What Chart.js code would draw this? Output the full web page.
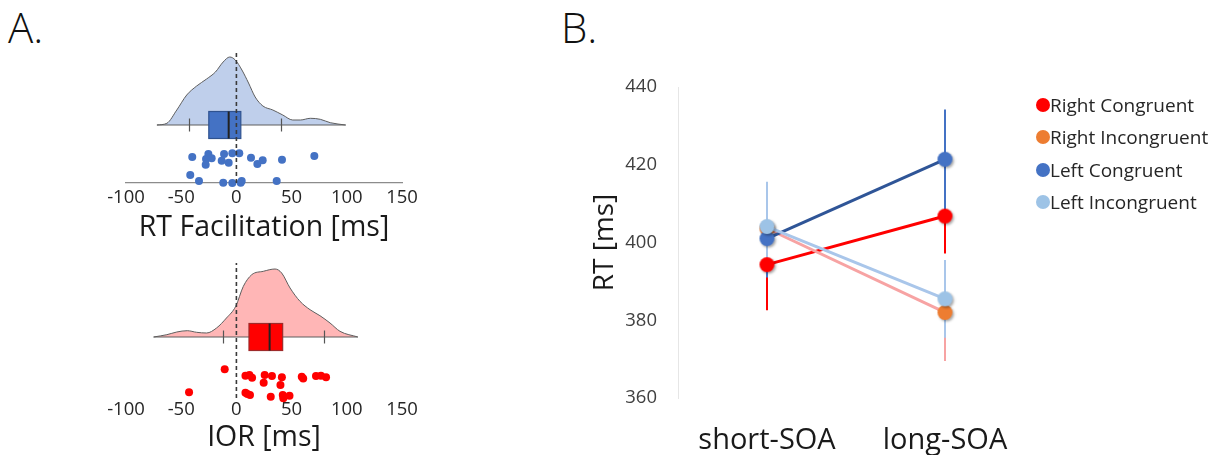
<!DOCTYPE html>
<html>
<head>
<meta charset="utf-8">
<script src="https://cdn.jsdelivr.net/npm/chart.js@4.4.1/dist/chart.umd.min.js"></script>
<style>
  html, body { margin:0; padding:0; background:#ffffff; width:1217px; height:455px; overflow:hidden; font-family:'Open Sans', sans-serif; }
  .abs { position:absolute; }
  .plabel { position:absolute; font-size:42px; font-weight:300; color:#111; line-height:1; }
  #legend { position:absolute; left:1036px; top:92px; }
  .li { position:relative; height:32.3px; font-size:19px; color:#262626; white-space:nowrap; line-height:26px; padding-left:14px; }
  .li span.dot { position:absolute; left:0; top:6px; width:14px; height:14px; border-radius:50%; }
</style>
</head>
<body>
<div class="plabel" style="left:8px;top:6px;">A.</div>
<div class="plabel" style="left:561px;top:6px;">B.</div>

<canvas id="cFacil" class="abs" style="left:100px;top:30px;" width="320" height="215"></canvas>
<canvas id="cIOR" class="abs" style="left:100px;top:242px;" width="320" height="213"></canvas>
<canvas id="cRT" class="abs" style="left:570px;top:70px;" width="475" height="385"></canvas>
<div id="legend"></div>

<script>
// ---------------- DATA ----------------
// Panel A (top): RT Facilitation [ms]
const facilTicks = [-100, -50, 0, 50, 100, 150];
const facilDensityX = [-72, -63, -54, -45, -36, -27, -19, -12, -6, -1, 5, 11, 17, 24, 33, 42, 51, 58, 67, 76, 85, 99];
const facilDensityY = [0, 1.7, 15, 30, 39, 46, 53, 63, 68, 65, 55, 42, 28, 19, 15, 10, 5, 5, 6.7, 5.7, 2.3, 0];
// whisker low, Q1, median, Q3, whisker high
const facilBoxStats = [-43, -25, -7, 4, 40];
const facilPoints = [-40, -25.4, -27.5, -22.4, -27.8, -11.2, -13.3, -7, -3.7, 2.6, 13.2, 19, 23.8, 41.3, 70.6,
                     -41.8, -33.9, -11.9, -3.7, 4.8, 3.9, 36.5];
const facilJitter = [26, 29, 24, 24.7, 18.3, 29, 22.3, 20.3, 29.7, 29.7, 25.3, 19, 22.7, 23.3, 27,
                     8, 2, 0.3, 0, 2, 0.3, 2];

// Panel A (bottom): IOR [ms]
const iorTicks = [-100, -50, 0, 50, 100, 150];
const iorDensityX = [-75, -63, -54, -44.5, -36, -27, -18, -9, -0.6, 6.3, 13.9, 24.4, 35, 41, 48.6, 57.6, 66.7, 75.7, 84.8, 93.8, 110];
const iorDensityY = [0, 2.3, 5, 6.3, 4.7, 4, 9, 19, 30.7, 50.7, 62.3, 65.7, 68, 64, 49, 35.7, 27.3, 21.3, 14, 5.7, 0];
const iorBoxStats = [-11.8, 11.4, 30.1, 41.9, 79.3];
const iorPoints = [-10.6, -42.9, 8.2, 11.8, 14.2, 25.6, 24.7, 32.2, 41.2, 39.9, 59.2, 60.5, 72.1, 76.6, 81.2,
                   8.2, 12.3, 10, 31.1, 42, 48.1, 42.5];
const iorJitter = [25.7, 2.7, 19.3, 20, 17.3, 20, 12.3, 19, 17.7, 10, 18.3, 16.5, 19, 19.3, 17.7,
                   2.3, 0, 1, -1.7, 0, -0.7, -3.3];

// Panel B: RT [ms]
const soaCategories = ['short-SOA', 'long-SOA'];
const rtTicks = [360, 380, 400, 420, 440];
const seriesNames = ['Right Congruent', 'Right Incongruent', 'Left Congruent', 'Left Incongruent'];
const rightCongruent = [394.3, 406.8];
const rightIncongruent = [403.6, 382.0];
const leftCongruent = [401.0, 421.4];
const leftIncongruent = [404.1, 385.5];
const rightCongruentErr = [11.7, 9.6];
const rightIncongruentErr = [11.5, 12.5];
const leftCongruentErr = [10.0, 12.8];
const leftIncongruentErr = [11.5, 10.0];

// ---------------- STYLE ----------------
const FONT = "'Open Sans', sans-serif";
Chart.defaults.font.family = FONT;

function noPad(s) { s.paddingTop = 0; s.paddingBottom = 0; s.paddingLeft = 0; s.paddingRight = 0; }

function raincloud(canvasId, cfg) {
  const BASE = 58, HALF = 13.5, TICKH = 6.5;
  const densityData = cfg.densX.map((x, i) => ({ x: x, y: BASE + cfg.densY[i] }));
  const baselineData = [{ x: cfg.densX[0], y: BASE }, { x: cfg.densX[cfg.densX.length - 1], y: BASE }];
  const dotsData = cfg.points.map((x, i) => ({ x: x, y: cfg.jitter[i] }));
  const dashData = [{ x: 0, y: cfg.dash[0] }, { x: 0, y: cfg.dash[1] }];

  const boxPlugin = {
    id: 'box_' + canvasId,
    afterDatasetDraw(chart, args) {
      if (args.index !== 1) return;
      const xs = chart.scales.x, ys = chart.scales.y, ctx = chart.ctx;
      const [wlo, q1, med, q3, whi] = cfg.stats;
      ctx.save();
      ctx.strokeStyle = '#555';
      ctx.lineWidth = 1.2;
      [wlo, whi].forEach(v => {
        const px = Math.round(xs.getPixelForValue(v)) + 0.5;
        ctx.beginPath();
        ctx.moveTo(px, ys.getPixelForValue(BASE - TICKH));
        ctx.lineTo(px, ys.getPixelForValue(BASE + TICKH));
        ctx.stroke();
      });
      const x1 = xs.getPixelForValue(q1), x2 = xs.getPixelForValue(q3);
      const yT = ys.getPixelForValue(BASE + HALF), yB = ys.getPixelForValue(BASE - HALF);
      ctx.fillStyle = cfg.boxFill;
      ctx.fillRect(x1, yT, x2 - x1, yB - yT);
      ctx.strokeStyle = cfg.boxLine;
      ctx.lineWidth = 1.2;
      ctx.strokeRect(x1, yT, x2 - x1, yB - yT);
      const xm = xs.getPixelForValue(med);
      ctx.strokeStyle = '#222';
      ctx.lineWidth = 2;
      ctx.beginPath();
      ctx.moveTo(xm, yT);
      ctx.lineTo(xm, yB);
      ctx.stroke();
      ctx.restore();
    }
  };

  return new Chart(document.getElementById(canvasId), {
    type: 'scatter',
    data: {
      datasets: [
        { type: 'line', data: densityData, order: 4, borderColor: '#5e5e5e', borderWidth: 1,
          backgroundColor: cfg.densFill, fill: { value: BASE }, pointRadius: 0,
          cubicInterpolationMode: 'monotone' },
        { type: 'line', data: baselineData, order: 3, borderColor: '#5e5e5e', borderWidth: 1.2,
          pointRadius: 0, fill: false },
        { data: dotsData, order: 1, backgroundColor: cfg.dotColor, borderWidth: 0, pointRadius: 4 },
        { type: 'line', data: dashData, order: 0, borderColor: '#3a3a3a', borderWidth: 1.6,
          borderDash: [4, 3], pointRadius: 0, fill: false }
      ]
    },
    options: {
      responsive: false,
      animation: false,
      events: [],
      clip: false,
      layout: { padding: { left: 26, right: 18, top: 10, bottom: 0 } },
      plugins: { legend: { display: false }, tooltip: { enabled: false } },
      scales: {
        x: {
          type: 'linear', min: -100, max: 150,
          afterBuildTicks: s => { s.ticks = cfg.ticks.map(v => ({ value: v })); },
          grid: { display: false, drawTicks: false },
          border: { display: cfg.axisLine, color: '#8c8c8c', width: 1.3 },
          ticks: { font: { size: 18.5 }, color: '#262626', padding: 4, maxRotation: 0, autoSkip: false },
          title: { display: true, text: cfg.title, font: { size: 28.5 }, color: '#1a1a1a', padding: { top: 0, bottom: 0 } },
          afterFit: s => { s.height = cfg.axisH; noPad(s); }
        },
        y: { type: 'linear', display: false, min: 0, max: 143 }
      }
    },
    plugins: [boxPlugin]
  });
}

raincloud('cFacil', {
  densX: facilDensityX, densY: facilDensityY, stats: facilBoxStats,
  points: facilPoints, jitter: facilJitter, ticks: facilTicks,
  densFill: 'rgba(180,199,231,0.85)', boxFill: '#4472C4', boxLine: '#2F528F', dotColor: '#4472C4',
  title: 'RT Facilitation [ms]', axisLine: true, dash: [0, 131], axisH: 62
});

raincloud('cIOR', {
  densX: iorDensityX, densY: iorDensityY, stats: iorBoxStats,
  points: iorPoints, jitter: iorJitter, ticks: iorTicks,
  densFill: 'rgba(255,178,178,0.95)', boxFill: '#FF0000', boxLine: '#9E2A2A', dotColor: '#FF0000',
  title: 'IOR [ms]', axisLine: false, dash: [-3, 132], axisH: 60
});

// ---------------- Panel B ----------------
const seriesValues = [rightCongruent, rightIncongruent, leftCongruent, leftIncongruent];
const seriesErrors = [rightCongruentErr, rightIncongruentErr, leftCongruentErr, leftIncongruentErr];
const markerColors = ['#FF0000', '#ED7D31', '#4472C4', '#9DC3E6'];
const lineColors = ['#FF0000', '#F7A3A3', '#2F5597', '#A9C6EA'];
const errColors = ['#FF0000', '#F7A3A3', '#4472C4', '#A9C6EA'];
const drawOrder = [3, 2, 1, 0];
const errDrawSeq = [1, 0, 2, 3];

function markerImage(color) {
  const r = 7.5, pad = 4, size = Math.ceil(2 * (r + pad));
  const c = document.createElement('canvas');
  c.width = size; c.height = size;
  const g = c.getContext('2d');
  g.shadowColor = 'rgba(0,0,0,0.35)';
  g.shadowBlur = 2.5;
  g.shadowOffsetX = 1.5;
  g.shadowOffsetY = 1.5;
  g.fillStyle = color;
  g.beginPath();
  g.arc(size / 2, size / 2, r, 0, Math.PI * 2);
  g.fill();
  return c;
}

const errorBarPlugin = {
  id: 'errorBars',
  beforeDatasetsDraw(chart) {
    const xs = chart.scales.x, ys = chart.scales.y, ctx = chart.ctx;
    ctx.save();
    ctx.lineWidth = 2;
    errDrawSeq.forEach(si => {
      ctx.strokeStyle = errColors[si];
      seriesValues[si].forEach((v, ci) => {
        const e = seriesErrors[si][ci];
        const px = xs.getPixelForValue(ci);
        ctx.beginPath();
        ctx.moveTo(px, ys.getPixelForValue(v - e));
        ctx.lineTo(px, ys.getPixelForValue(v + e));
        ctx.stroke();
      });
    });
    ctx.restore();
  }
};

new Chart(document.getElementById('cRT'), {
  type: 'line',
  data: {
    labels: soaCategories,
    datasets: seriesNames.map((n, i) => ({
      label: n,
      data: seriesValues[i],
      order: drawOrder[i],
      borderColor: lineColors[i],
      borderWidth: 3,
      pointStyle: markerImage(markerColors[i]),
      pointRadius: 8,
      fill: false
    }))
  },
  options: {
    responsive: false,
    animation: false,
    events: [],
    layout: { padding: { left: 0, right: 0, top: 17, bottom: 0 } },
    plugins: { legend: { display: false }, tooltip: { enabled: false } },
    scales: {
      x: {
        type: 'category', offset: true,
        grid: { display: false, drawTicks: false },
        border: { display: false },
        ticks: { font: { size: 29 }, color: '#1a1a1a', padding: 25 },
        afterFit: s => { s.height = 57; noPad(s); }
      },
      y: {
        min: 360, max: 440,
        afterBuildTicks: s => { s.ticks = rtTicks.map(v => ({ value: v })); },
        grid: { display: false, drawTicks: false },
        border: { display: true, color: '#e6e6e6', width: 1 },
        ticks: { font: { size: 18.5 }, color: '#404040', padding: 21 },
        title: { display: true, text: 'RT [ms]', font: { size: 28 }, color: '#1a1a1a', padding: { top: 18, bottom: 0 } },
        afterFit: s => { s.width = 108; noPad(s); }
      }
    }
  },
  plugins: [errorBarPlugin]
});

const leg = document.getElementById('legend');
seriesNames.forEach((n, i) => {
  const d = document.createElement('div');
  d.className = 'li';
  d.innerHTML = '<span class="dot" style="background:' + markerColors[i] + '"></span>' + n;
  leg.appendChild(d);
});
</script>
</body>
</html>
